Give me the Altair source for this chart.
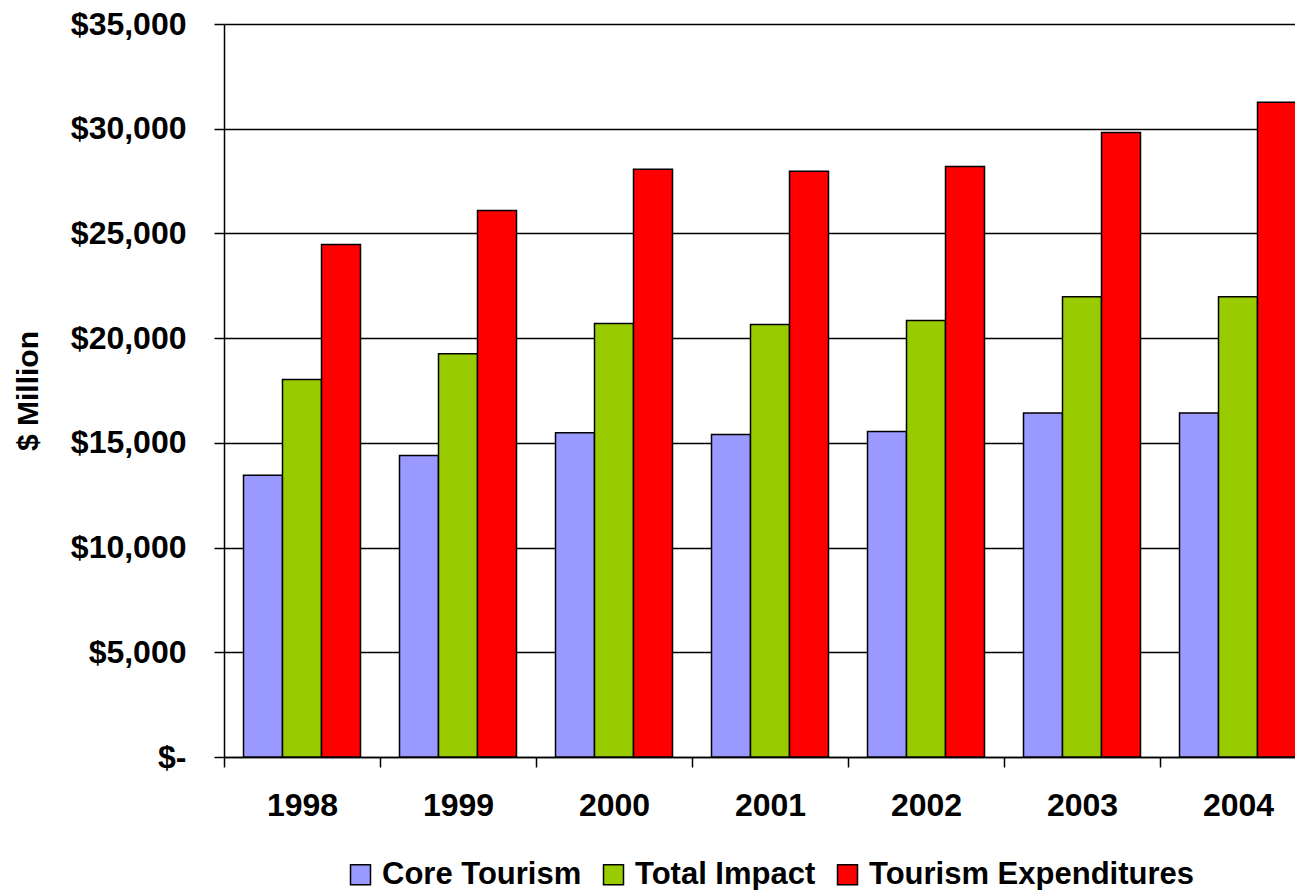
import altair as alt
import pandas as pd

years = ["1998", "1999", "2000", "2001", "2002", "2003", "2004"]
series = ["Core Tourism", "Total Impact", "Tourism Expenditures"]
core = [13450, 14400, 15480, 15400, 15540, 16430, 16430]
total = [18030, 19260, 20700, 20650, 20840, 21980, 21980]
expend = [24470, 26100, 28060, 27970, 28200, 29820, 31260]
colors = ["#9999FF", "#99CC00", "#FF0000"]
y_ticks = [0, 5000, 10000, 15000, 20000, 25000, 30000, 35000]

rows = []
for name, vals in zip(series, [core, total, expend]):
    for yr, v in zip(years, vals):
        rows.append({"year": yr, "series": name, "value": v})
df = pd.DataFrame(rows)

FONT = "Liberation Sans"

chart = alt.Chart(df).mark_bar(stroke="black", strokeWidth=1.5).encode(
    x=alt.X(
        "year:N",
        sort=years,
        scale=alt.Scale(paddingInner=0, paddingOuter=0, range=[0, 1092]),
        axis=alt.Axis(
            title=None, labelAngle=0, labelFontSize=32, labelFontWeight="bold",
            labelColor="black", labelPadding=23, domainColor="black", domainWidth=1.5,
            tickColor="black", tickWidth=1.5, tickSize=10, tickBand="extent", grid=False,
            labelFont=FONT,
        ),
    ),
    xOffset=alt.XOffset(
        "series:N", sort=series,
        scale=alt.Scale(domain=series, paddingInner=0, paddingOuter=0.5),
    ),
    y=alt.Y(
        "value:Q",
        scale=alt.Scale(domain=[0, 35000], nice=False),
        axis=alt.Axis(
            values=y_ticks,
            labelExpr="datum.value == 0 ? '$-' : '$' + format(datum.value, ',')",
            title="$ Million", titleFontSize=30, titleFontWeight="bold", titleColor="black",
            titleFont=FONT, titlePadding=27,
            labelFontSize=32, labelFontWeight="bold", labelColor="black", labelFont=FONT,
            labelPadding=28, grid=True, gridColor="black", gridWidth=1.3,
            domainColor="black", domainWidth=1.5, tickColor="black", tickWidth=1.5, tickSize=10,
        ),
    ),
    color=alt.Color(
        "series:N", sort=series,
        scale=alt.Scale(domain=series, range=colors),
        legend=alt.Legend(
            title=None, orient="none", direction="horizontal",
            legendX=121, legendY=835,
            symbolType="square", symbolSize=400, symbolStrokeColor="black",
            symbolStrokeWidth=1.5, symbolOpacity=1,
            labelFontSize=31, labelFontWeight="bold", labelColor="black", labelFont=FONT,
            labelOffset=6, columnPadding=16, labelLimit=500,
        ),
    ),
).properties(
    width=1071,
    height=733,
    padding={"left": 216, "top": 16, "right": 0, "bottom": 133},
    autosize=alt.AutoSizeParams(type="none"),
).configure_view(stroke=None).configure(background="white")

chart.save("out.html", embed_options={"renderer": "svg", "actions": False})
